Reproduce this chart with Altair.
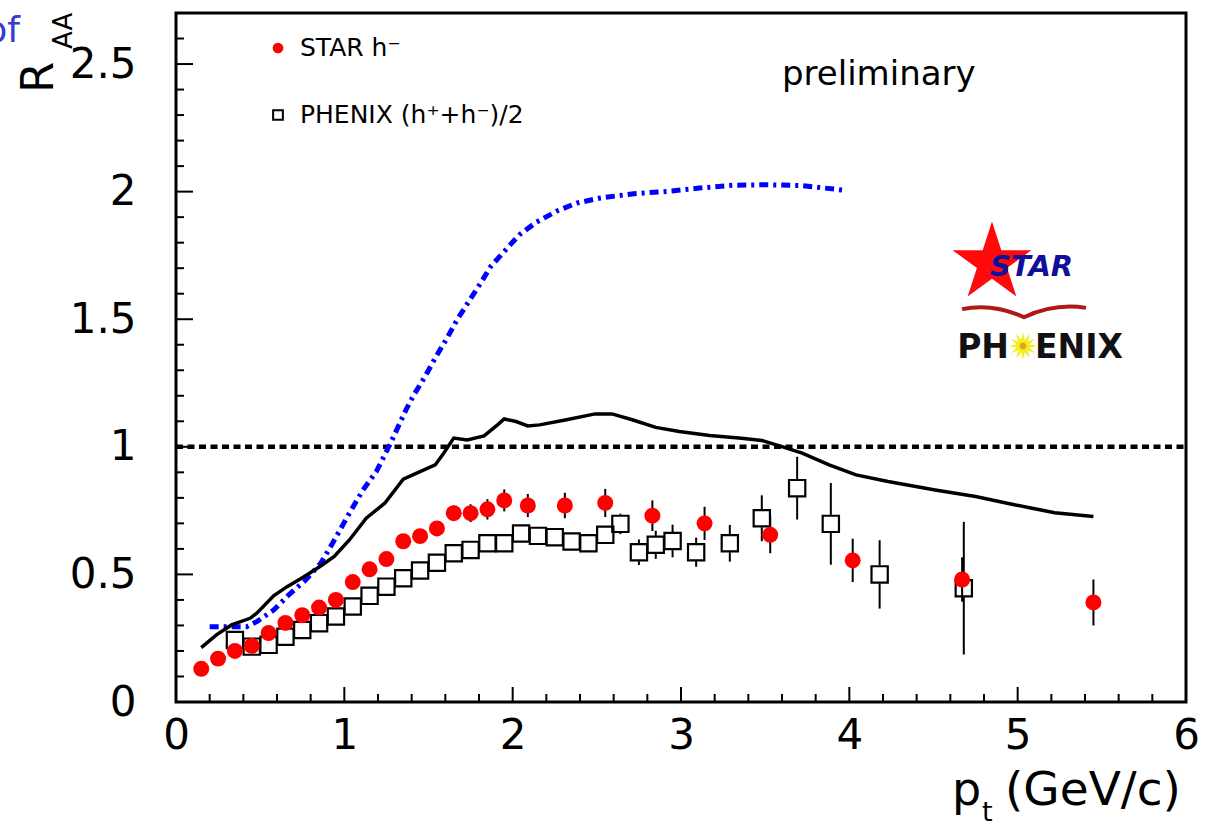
import math
import altair as alt
import pandas as pd

# ---- measured nuclear modification factor R_AA vs p_t ----
star_pt = [0.15, 0.25, 0.35, 0.45, 0.55, 0.65, 0.75, 0.85, 0.95, 1.05, 1.15, 1.25, 1.35, 1.45,
           1.55, 1.65, 1.75, 1.85, 1.95, 2.09, 2.31, 2.55, 2.83, 3.14, 3.53, 4.02, 4.67, 5.45]
star_raa = [0.13, 0.17, 0.20, 0.22, 0.27, 0.31, 0.34, 0.37, 0.40, 0.47, 0.52, 0.56, 0.63, 0.65,
            0.68, 0.74, 0.74, 0.755, 0.79, 0.77, 0.77, 0.78, 0.73, 0.70, 0.655, 0.555, 0.48, 0.39]
star_err = [0.01, 0.01, 0.01, 0.01, 0.012, 0.013, 0.014, 0.015, 0.016, 0.018, 0.02, 0.02, 0.022, 0.024,
            0.026, 0.03, 0.035, 0.04, 0.043, 0.045, 0.05, 0.055, 0.06, 0.065, 0.072, 0.085, 0.087, 0.09]

phenix_pt = [0.35, 0.45, 0.55, 0.65, 0.75, 0.85, 0.95, 1.05, 1.15, 1.25, 1.35, 1.45, 1.55, 1.65,
             1.75, 1.85, 1.95, 2.05, 2.15, 2.25, 2.35, 2.45, 2.55, 2.64, 2.75, 2.85, 2.95, 3.09,
             3.29, 3.48, 3.69, 3.89, 4.18, 4.68]
phenix_raa = [0.243, 0.217, 0.224, 0.256, 0.282, 0.309, 0.335, 0.374, 0.416, 0.452, 0.485, 0.515,
              0.546, 0.583, 0.596, 0.622, 0.622, 0.66, 0.651, 0.646, 0.629, 0.622, 0.655, 0.698,
              0.587, 0.616, 0.631, 0.587, 0.622, 0.72, 0.838, 0.698, 0.50, 0.446]
phenix_err = [0.01, 0.01, 0.01, 0.01, 0.01, 0.01, 0.01, 0.01, 0.012, 0.012, 0.013, 0.014, 0.015,
              0.016, 0.017, 0.018, 0.02, 0.022, 0.024, 0.025, 0.026, 0.028, 0.03, 0.04, 0.05,
              0.055, 0.064, 0.057, 0.072, 0.09, 0.123, 0.16, 0.134, 0.26]

# ---- model curves ----
blue_pt = [0.2, 0.42, 0.48, 0.58, 0.67, 0.77, 0.86, 0.93, 1.03, 1.11, 1.19, 1.27, 1.37, 1.41, 1.48,
           1.54, 1.61, 1.67, 1.74, 1.81, 1.87, 1.96, 2.04, 2.14, 2.26, 2.38, 2.52, 2.72, 2.92,
           3.11, 3.31, 3.51, 3.71, 3.91, 3.97]
blue_raa = [0.295, 0.295, 0.315, 0.36, 0.42, 0.478, 0.544, 0.622, 0.74, 0.83, 0.903, 1.008, 1.15,
            1.2, 1.276, 1.348, 1.426, 1.498, 1.57, 1.642, 1.707, 1.773, 1.831, 1.88, 1.923, 1.955,
            1.975, 1.992, 2.001, 2.014, 2.025, 2.027, 2.024, 2.01, 2.005]

black_pt = [0.15, 0.24, 0.33, 0.44, 0.48, 0.58, 0.66, 0.76, 0.86, 0.94, 1.03, 1.13, 1.24, 1.35,
            1.45, 1.54, 1.59, 1.65, 1.73, 1.83, 1.91, 1.95, 2.02, 2.09, 2.16, 2.32, 2.49, 2.59,
            2.71, 2.85, 2.99, 3.17, 3.36, 3.48, 3.60, 3.72, 3.88, 4.04, 4.23, 4.51, 4.75, 4.98,
            5.22, 5.45]
black_raa = [0.213, 0.263, 0.302, 0.328, 0.348, 0.416, 0.452, 0.491, 0.533, 0.57, 0.635, 0.72,
             0.779, 0.873, 0.903, 0.929, 0.975, 1.034, 1.027, 1.043, 1.086, 1.109, 1.099, 1.082,
             1.086, 1.106, 1.129, 1.129, 1.106, 1.076, 1.06, 1.044, 1.034, 1.025, 1.001, 0.975,
             0.929, 0.89, 0.864, 0.831, 0.805, 0.773, 0.742, 0.727]

x_labels = [0, 1, 2, 3, 4, 5, 6]
y_labels = [0, 0.5, 1, 1.5, 2, 2.5]

W, H = 1010, 689
Y_MAX = 2.7
FONT = "DejaVu Sans"

xs = alt.Scale(domain=[0, 6], nice=False, zero=False)
ys = alt.Scale(domain=[0, Y_MAX], nice=False, zero=False)
x_axis = alt.Axis(values=x_labels, format="~g", labelFont=FONT, labelFontSize=42, labelColor="black",
                  labelPadding=13, ticks=False, domain=False, grid=False, title=None,
                  labelFlush=False, labelOverlap=False)
y_axis = alt.Axis(values=y_labels, format="~g", labelFont=FONT, labelFontSize=42, labelColor="black",
                  labelPadding=40, ticks=False, domain=False, grid=False, title=None,
                  labelFlush=False, labelOverlap=False)
X = alt.X("x:Q", scale=xs, axis=x_axis)
Y = alt.Y("y:Q", scale=ys, axis=y_axis)

# error bars are drawn only outside the open square marker
SQ_HALF = 9.0 * Y_MAX / H

def bar_segments(xv, yv, ev, gap):
    rows = []
    for x, y, e in zip(xv, yv, ev):
        if e > gap:
            rows.append({"x": x, "lo": y + gap, "hi": y + e})
            rows.append({"x": x, "lo": y - e, "hi": y - gap})
    return pd.DataFrame(rows, columns=["x", "lo", "hi"])

star_df = pd.DataFrame({"x": star_pt, "y": star_raa})
phenix_df = pd.DataFrame({"x": phenix_pt, "y": phenix_raa})
star_bars = bar_segments(star_pt, star_raa, star_err, 0.0)
phenix_bars = bar_segments(phenix_pt, phenix_raa, phenix_err, SQ_HALF)

# inward tick marks on the bottom and left frame edges
x_minor = [round(i * 0.2, 1) for i in range(1, 30) if i % 5]
x_major = [1, 2, 3, 4, 5]
y_minor = [round(i * 0.1, 1) for i in range(1, 27) if i % 5]
y_major = [0.5, 1, 1.5, 2, 2.5]

def xticks(vals, length):
    return alt.Chart(pd.DataFrame({"x": vals})).mark_rule(color="black", strokeWidth=2).encode(
        x=X, y=alt.value(H), y2=alt.value(H - length))

def yticks(vals, length):
    return alt.Chart(pd.DataFrame({"y": vals})).mark_rule(color="black", strokeWidth=2).encode(
        y=Y, x=alt.value(0), x2=alt.value(length))

unity = alt.Chart(pd.DataFrame({"x": [0], "x2": [6], "y": [1]})).mark_rule(
    color="black", strokeWidth=4.5, strokeDash=[7, 4.5]).encode(x=X, x2="x2:Q", y=Y)

blue_line = alt.Chart(pd.DataFrame({"x": blue_pt, "y": blue_raa})).mark_line(
    color="#0000ff", strokeWidth=5, strokeDash=[9, 5, 3, 5]).encode(x=X, y=Y, order="x:Q")
black_line = alt.Chart(pd.DataFrame({"x": black_pt, "y": black_raa})).mark_line(
    color="black", strokeWidth=3.5).encode(x=X, y=Y, order="x:Q")

phenix_err_bars = alt.Chart(phenix_bars).mark_rule(color="black", strokeWidth=2).encode(
    x=X, y=alt.Y("lo:Q", scale=ys, axis=y_axis), y2="hi:Q")
star_err_bars = alt.Chart(star_bars).mark_rule(color="black", strokeWidth=2).encode(
    x=X, y=alt.Y("lo:Q", scale=ys, axis=y_axis), y2="hi:Q")
phenix_pts = alt.Chart(phenix_df).mark_point(
    shape="square", size=265, filled=False, color="black", strokeWidth=2.2, opacity=1).encode(x=X, y=Y)
star_pts = alt.Chart(star_df).mark_point(
    shape="circle", size=255, filled=True, color="#ff0000", opacity=1).encode(x=X, y=Y)


def label(text, x, y, size, color="black", align="left", baseline="alphabetic", angle=0,
          weight="normal", style="normal"):
    return alt.Chart(pd.DataFrame({"t": [text]})).mark_text(
        font=FONT, fontSize=size, color=color, align=align, baseline=baseline, angle=angle,
        fontWeight=weight, fontStyle=style).encode(x=alt.value(x), y=alt.value(y), text="t:N")


def glyph(path, x, y, size, **kw):
    return alt.Chart(pd.DataFrame({"t": [0]})).mark_point(shape=path, size=size, opacity=1, **kw).encode(
        x=alt.value(x), y=alt.value(y))


# five-pointed star and sun burst outlines
def star_path(n, inner):
    pts = []
    for k in range(2 * n):
        r = 1 if k % 2 == 0 else inner
        a = -math.pi / 2 + k * math.pi / n
        pts.append(f"{r * math.cos(a):.4f},{r * math.sin(a):.4f}")
    return "M" + "L".join(pts) + "Z"

wing_path = "M-1,-0.03 Q-0.5,-0.13 0,0.1 Q0.5,-0.13 1,-0.05"

texts = [
    # legend
    glyph("circle", 102, 35, 115, filled=True, color="#ff0000"),
    label("STAR h\u207b", 124, 35, 25, baseline="middle"),
    glyph("square", 102, 102, 95, filled=False, color="black", strokeWidth=2),
    label("PHENIX (h\u207a+h\u207b)/2", 124, 102, 25, baseline="middle"),
    label("preliminary", 606, 72, 34),
    # axis titles
    label("R", -123, 80, 45, angle=270),
    label("AA", -104, 36, 26, angle=270),
    label("of", -156, 29, 36, color="#3a3acf", align="right"),
    label("p", 776, 792, 46),
    label("t", 806, 808, 27),
    label("(GeV/c)", 829, 792, 47),
    # experiment logos
    glyph(star_path(5, 0.382), 816, 250, 6889, filled=True, color="#ff0a0a", strokeWidth=0),
    label("STAR", 814, 263, 29, color="#10109a", weight="bold", style="italic"),
    glyph(wing_path, 848, 298, 15376, filled=False, color="#b01818", strokeWidth=4),
    label("PH", 833, 345, 33, color="#111111", weight="bold", align="right"),
    label("ENIX", 859, 345, 33, color="#111111", weight="bold"),
    glyph(star_path(12, 0.45), 847, 333, 800, filled=True, color="#f2ee1a", strokeWidth=0),
    glyph("circle", 847, 333, 40, filled=True, color="#e0a020"),
]

chart = alt.layer(
    xticks(x_minor, 8), xticks(x_major, 15), yticks(y_minor, 8), yticks(y_major, 17),
    unity, blue_line, black_line,
    phenix_err_bars, phenix_pts, star_err_bars, star_pts,
    *texts,
).properties(
    width=W, height=H,
    autosize=alt.AutoSizeParams(type="none"),
    padding={"left": 176, "top": 13, "right": 27, "bottom": 125},
    background="white",
).configure_view(stroke="black", strokeWidth=3)

chart.save("out.html", embed_options={"renderer": "svg", "actions": False})
